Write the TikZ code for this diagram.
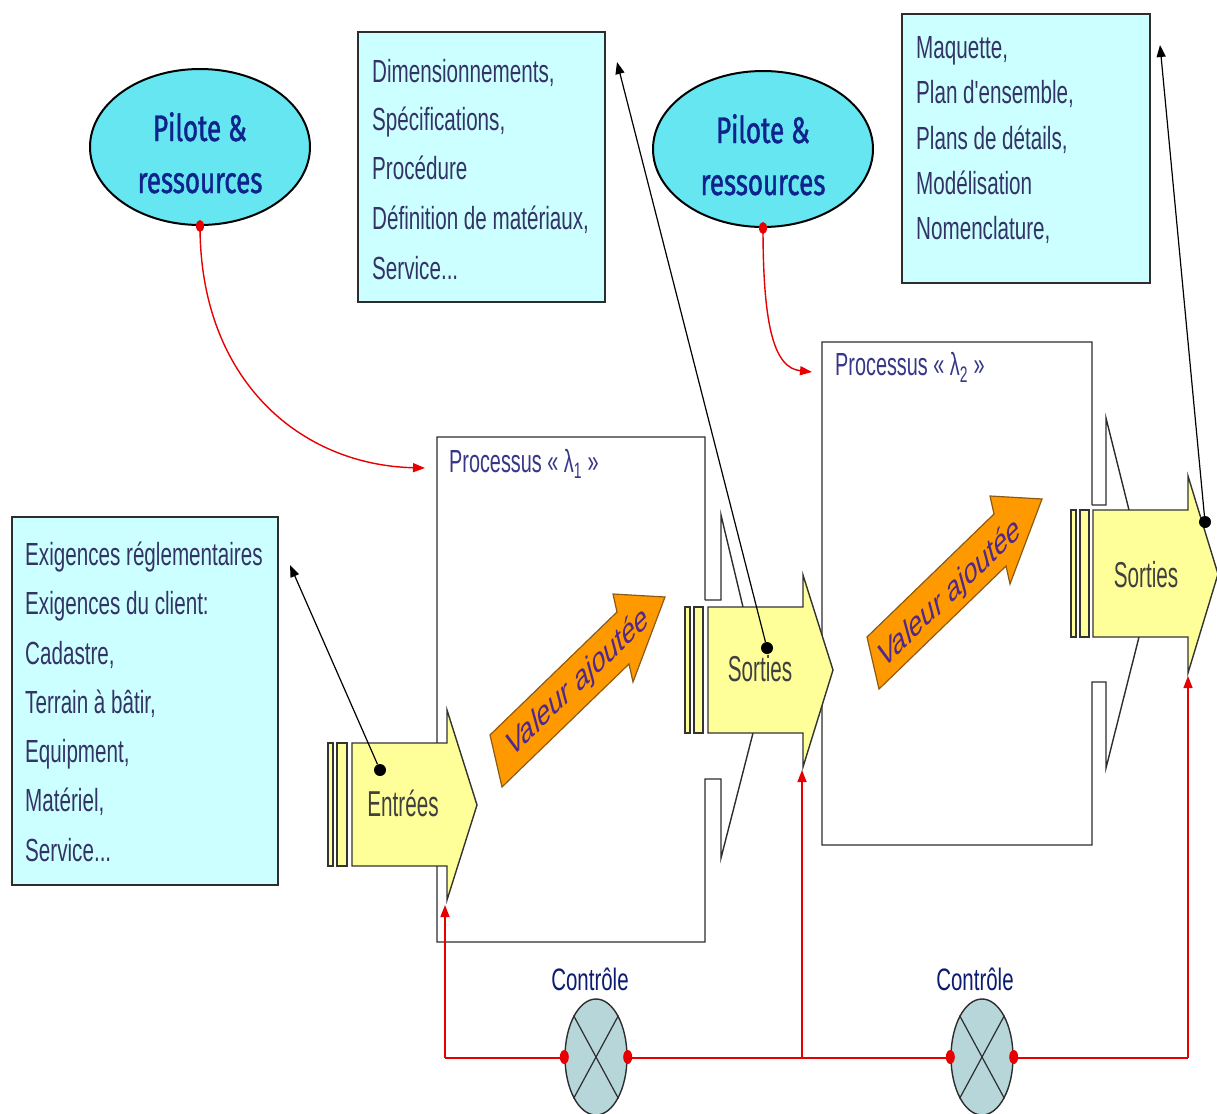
\documentclass[tikz,border=0pt]{standalone}
\usepackage{fontspec}
\setmainfont{Liberation Sans}
\newfontfamily\boxfont[FakeStretch=0.645]{Liberation Sans}
\newfontfamily\procfont[FakeStretch=0.62]{Liberation Sans}
\newfontfamily\iofont[FakeStretch=0.575]{Liberation Sans}
\newfontfamily\ctrlfont[FakeStretch=0.66]{Liberation Sans}
\newfontfamily\pilfont[FakeStretch=0.7,FakeBold=1.2]{Fira Sans}
\usetikzlibrary{arrows.meta,shapes.geometric}

\definecolor{boxcyan}{RGB}{204,255,255}
\definecolor{pilcyan}{RGB}{102,230,240}
\definecolor{ctrlfill}{RGB}{182,214,218}
\definecolor{ioyellow}{RGB}{255,255,153}
\definecolor{vaorange}{RGB}{255,153,0}
\definecolor{vaedge}{RGB}{140,90,20}
\definecolor{txtblue}{RGB}{51,51,102}
\definecolor{procblue}{RGB}{55,55,135}
\definecolor{navy}{RGB}{15,35,140}
\definecolor{valtxt}{RGB}{80,40,140}
\definecolor{ctrlred}{RGB}{232,0,0}
\definecolor{edge}{RGB}{45,45,45}

\begin{document}
\begin{tikzpicture}[x=1pt,y=-1pt,
  infobox/.style={draw=edge, line width=1.5pt, fill=boxcyan},
  boxline/.style={font=\boxfont\fontsize{32}{38}\selectfont, text=txtblue, anchor=base west, inner sep=0pt},
  proctitle/.style={font=\procfont\fontsize{32}{38}\selectfont, text=procblue, anchor=base west, inner sep=0pt},
  proc/.style={draw=edge, line width=1.4pt, line join=miter},
  ioshape/.style={draw=black!80, line width=1.4pt, fill=ioyellow, line join=miter},
  iotext/.style={font=\iofont\fontsize{36}{40}\selectfont, text=black!75, anchor=base, inner sep=0pt},
  valshape/.style={draw=vaedge, line width=1.2pt, fill=vaorange, line join=miter},
  valtext/.style={font=\fontsize{36}{40}\selectfont, text=valtxt, inner sep=0pt, transform shape},
  pilote/.style={ellipse, draw=black, line width=2pt, fill=pilcyan, minimum width=220pt, minimum height=156pt, inner sep=0pt},
  piltext/.style={font=\pilfont\fontsize{37}{40}\selectfont, text=navy, anchor=base, inner sep=0pt},
  ctrl/.style={ellipse, draw=edge, line width=1.4pt, fill=ctrlfill, minimum width=62pt, minimum height=116pt, inner sep=0pt},
  ctrltext/.style={font=\ctrlfont\fontsize{31}{36}\selectfont, text=navy!80!black, anchor=base, inner sep=0pt},
  blackdot/.style={circle, fill=black, minimum size=12pt, inner sep=0pt},
  reddot/.style={ellipse, fill=ctrlred, minimum width=9pt, minimum height=14pt, inner sep=0pt},
  link/.style={draw=black, line width=1.2pt, -{Triangle[length=12pt,width=9pt]}},
  redlink/.style={draw=ctrlred, line width=1.4pt},
  redarr/.style={redlink, -{Triangle[length=12pt,width=9pt]}}
]
\fill[white] (0,0) rectangle (1217,1113);
\useasboundingbox (0,0) rectangle (1217,1113);

% ---- information boxes ----
\draw[infobox] (12,517) rectangle (278,885);
\node[boxline] (in1) at (25,565) {Exigences réglementaires};
\node[boxline] (in2) at (25,614) {Exigences du client:};
\node[boxline] (in3) at (25,664) {Cadastre,};
\node[boxline] (in4) at (25,713) {Terrain à bâtir,};
\node[boxline] (in5) at (25,762) {Equipment,};
\node[boxline] (in6) at (25,811) {Matériel,};
\node[boxline] (in7) at (25,861) {Service...};

\draw[infobox] (358,32) rectangle (605,302);
\node[boxline] (m1) at (372,83) {Dimensionnements,};
\node[boxline] (m2) at (372,131) {Spécifications,};
\node[boxline] (m3) at (372,179) {Procédure};
\node[boxline] (m4) at (372,229) {Définition de matériaux,};
\node[boxline] (m5) at (372,279) {Service...};

\draw[infobox] (902,14) rectangle (1150,283);
\node[boxline] (o1) at (916,59) {Maquette,};
\node[boxline] (o2) at (916,104) {Plan d'ensemble,};
\node[boxline] (o3) at (916,149) {Plans de détails,};
\node[boxline] (o4) at (916,194) {Modélisation};
\node[boxline] (o5) at (916,239) {Nomenclature,};

% ---- process boxes with their open outlet ----
\fill[white] (437,437) rectangle (705,942);
\draw[proc] (705,600) -- (705,437) -- (437,437) -- (437,942) -- (705,942) -- (705,779) -- (721,779) -- (721,858) -- (753,733);
\draw[proc] (705,600) -- (721,600) -- (721,515) -- (743,607);
\node[proctitle] (t1) at (449,472) {Processus « λ\textsubscript{1} »};

\fill[white] (822,342) rectangle (1092,845);
\draw[proc] (1092,505) -- (1092,342) -- (822,342) -- (822,845) -- (1092,845) -- (1092,682) -- (1106,682) -- (1106,768) -- (1139,637);
\draw[proc] (1092,505) -- (1106,505) -- (1106,418) -- (1129,510);
\node[proctitle] (t2) at (835,375) {Processus « λ\textsubscript{2} »};

% ---- steering ellipses ----
\node[pilote] (p1) at (200,147) {};
\node[piltext] (p1a) at (200,141) {Pilote \&};
\node[piltext] (p1b) at (200,193) {ressources};
\node[pilote] (p2) at (763,149) {};
\node[piltext] (p2a) at (763,143) {Pilote \&};
\node[piltext] (p2b) at (763,195) {ressources};

\coordinate (r1) at (425,468);
\coordinate (r2) at (812,372);
\draw[redarr] (p1.south) .. controls (200,380) and (300,465) .. (r1);
\draw[redarr] (p2.south) .. controls (763,330) and (775,368) .. (r2);
\node[reddot, minimum width=8pt, minimum height=12pt] (p1d) at (p1.south) {};
\node[reddot, minimum width=8pt, minimum height=12pt] (p2d) at (p2.south) {};

% ---- inputs / outputs ----
\draw[ioshape] (328,743) rectangle (333,866);
\draw[ioshape] (337,743) rectangle (347,866);
\draw[ioshape] (352,743) -- (447,743) -- (447,710) -- (477,805) -- (447,900) -- (447,866) -- (352,866) -- cycle;
\node[iotext] (e1) at (403,816) {Entrées};

\draw[ioshape] (685,607) rectangle (690,733);
\draw[ioshape] (694,607) rectangle (703,733);
\draw[ioshape] (708,607) -- (803,607) -- (803,575) -- (833,670) -- (803,767) -- (803,733) -- (708,733) -- cycle;
\node[iotext] (s1) at (760,681) {Sorties};

\draw[ioshape] (1071,510) rectangle (1076,637);
\draw[ioshape] (1080,510) rectangle (1089,637);
\draw[ioshape] (1093,510) -- (1188,510) -- (1188,476) -- (1218,574) -- (1188,673) -- (1188,637) -- (1093,637) -- cycle;
\node[iotext] (s2) at (1146,587) {Sorties};

% ---- added value arrows ----
\draw[valshape] (490,735) -- (617,612) -- (613,594) -- (665,597) -- (633,682) -- (629,664) -- (502,787) -- cycle;
\begin{scope}[shift={(578,683)}]
  \node[valtext, cm={0.603,0.585,-0.24,0.88,(0,0)}] (v1) at (0,0) {Valeur ajoutée};
\end{scope}
\begin{scope}[shift={(377,-98)}]
  \draw[valshape] (490,735) -- (617,612) -- (613,594) -- (665,597) -- (633,682) -- (629,664) -- (502,787) -- cycle;
\end{scope}
\begin{scope}[shift={(950,594)}]
  \node[valtext, cm={0.603,0.585,-0.24,0.88,(0,0)}] (v2) at (0,0) {Valeur ajoutée};
\end{scope}

% ---- links from inputs / outputs to their descriptions ----
\node[blackdot] (d1) at (380,770) {};
\node[blackdot] (d2) at (767,648) {};
\node[blackdot] (d3) at (1205,522) {};
\coordinate (a1) at (290,565);
\coordinate (a2) at (617,62);
\coordinate (a3) at (1160,45);
\draw[link] (d1) -- (a1);
\draw[link] (d2) -- (a2);
\draw[link] (d3) -- (a3);

% ---- control loop ----
\coordinate (k0) at (445,1058);
\coordinate (k1) at (802,1058);
\coordinate (k2) at (1188,1058);
\coordinate (u0) at (445,905);
\coordinate (u1) at (802,770);
\coordinate (u2) at (1188,676);
\draw[redlink] (k0) -- (k2);
\draw[redarr] (k0) -- (u0);
\draw[redarr] (k1) -- (u1);
\draw[redarr] (k2) -- (u2);

\node[ctrl] (c1) at (596,1057) {};
\draw[edge, line width=1.2pt] (c1.north west) -- (c1.south east) (c1.north east) -- (c1.south west);
\node[reddot] (c1w) at (c1.west) {};
\node[reddot] (c1e) at (c1.east) {};
\node[ctrltext] (c1l) at (590,990) {Contrôle};

\node[ctrl] (c2) at (982,1057) {};
\draw[edge, line width=1.2pt] (c2.north west) -- (c2.south east) (c2.north east) -- (c2.south west);
\node[reddot] (c2w) at (c2.west) {};
\node[reddot] (c2e) at (c2.east) {};
\node[ctrltext] (c2l) at (975,990) {Contrôle};
\end{tikzpicture}
\end{document}
